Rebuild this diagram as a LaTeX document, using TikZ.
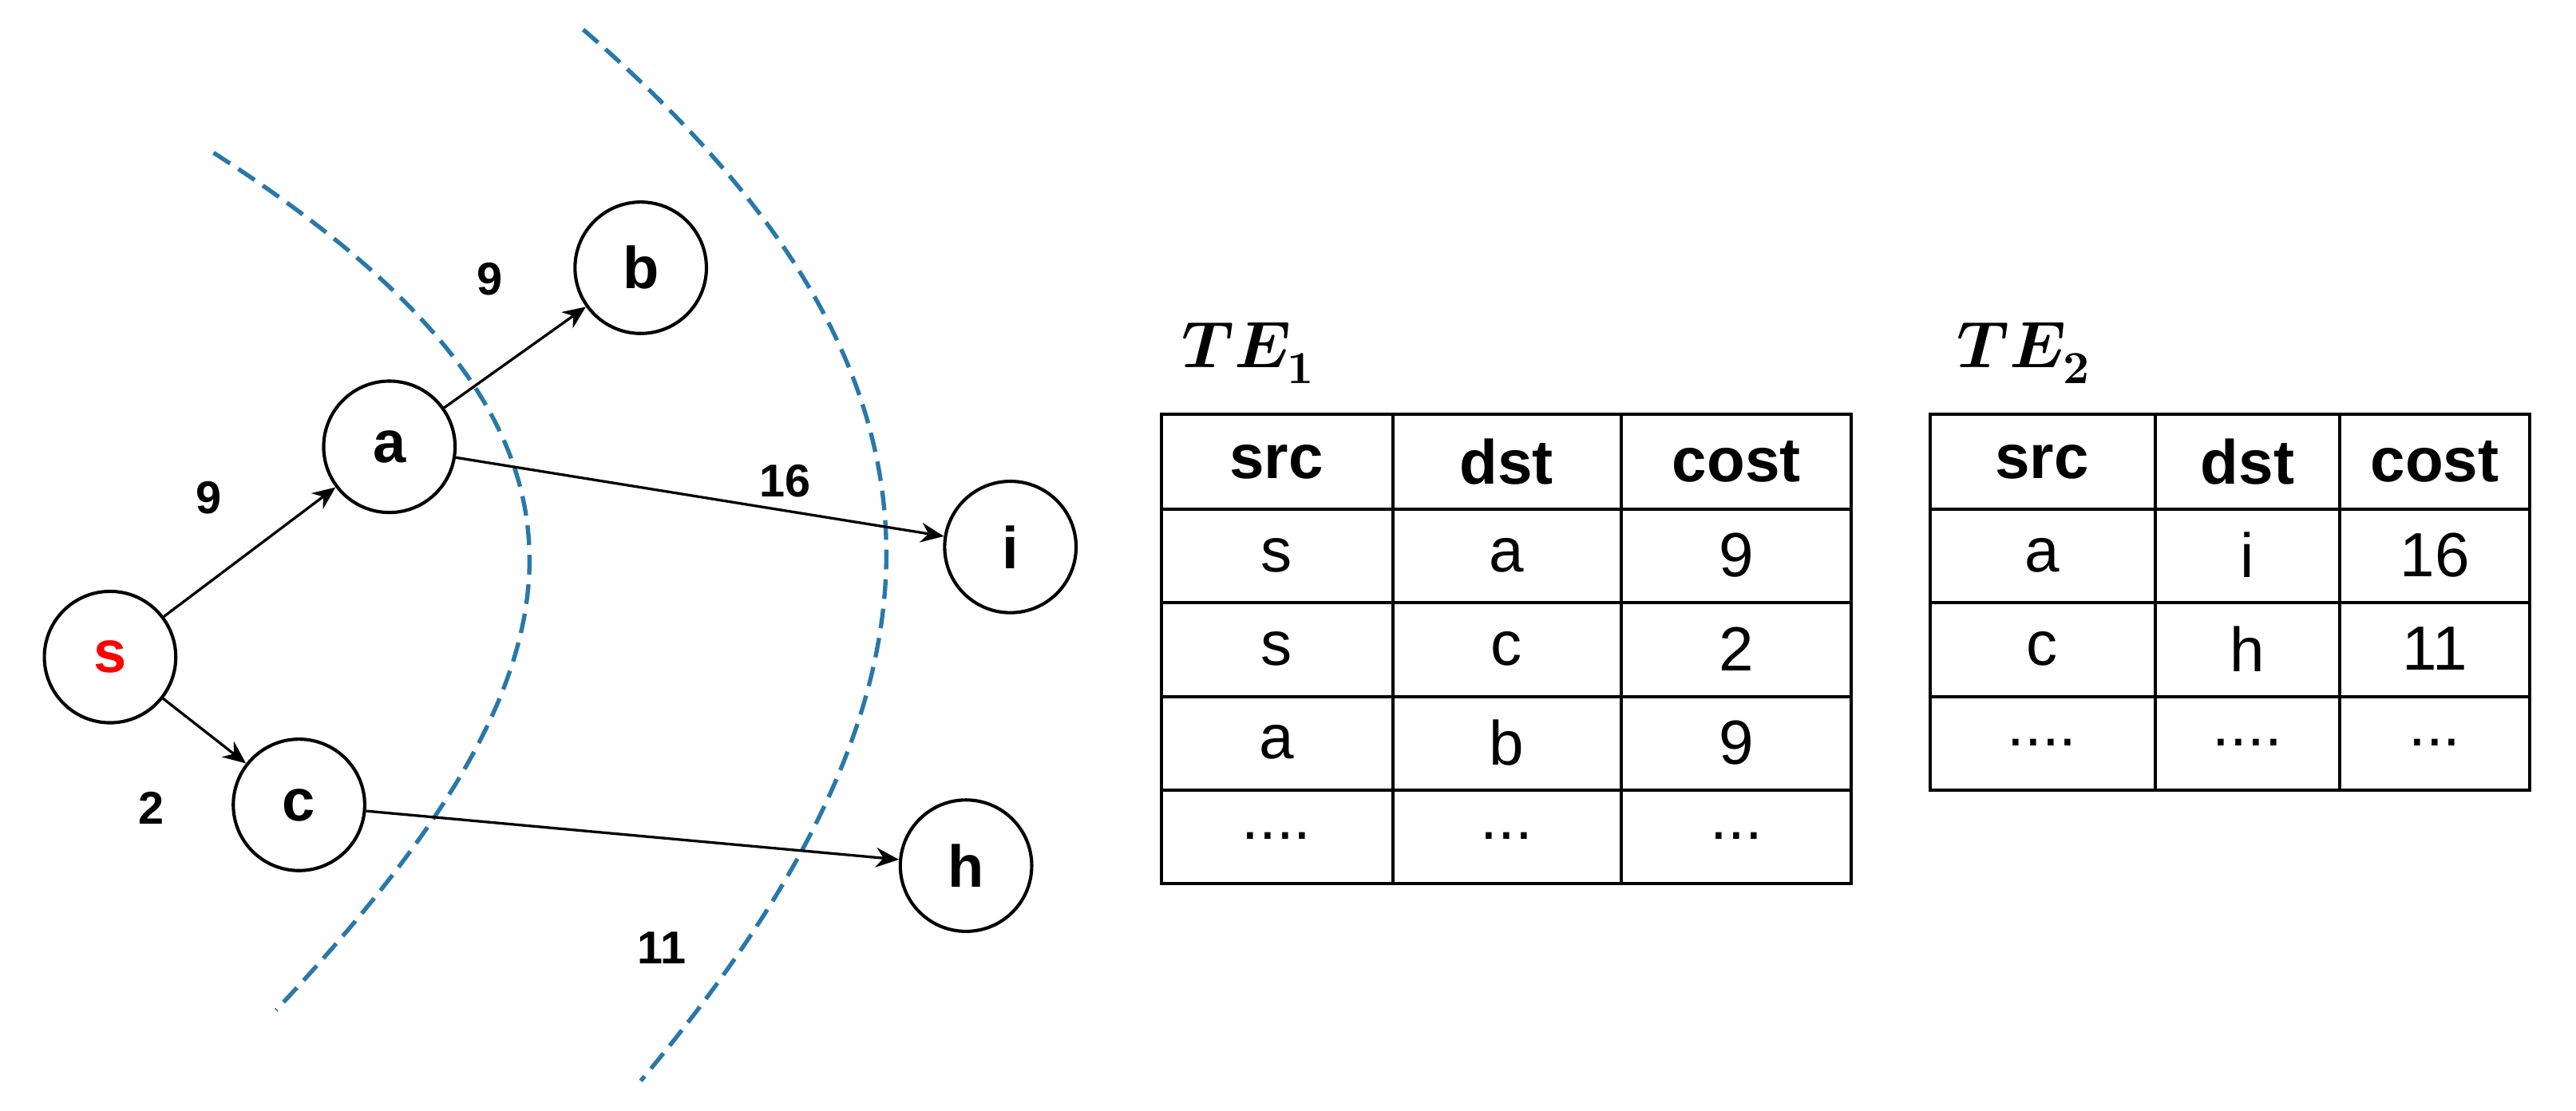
\documentclass[tikz,border=0pt]{standalone}
\usepackage{fontspec}
\setmainfont{Liberation Sans}
\usepackage{unicode-math}
\usetikzlibrary{arrows.meta}
\begin{document}
\begin{tikzpicture}[x=0.5pt,y=-0.5pt,
  nd/.style={circle,draw,line width=1pt,minimum size=40pt,inner sep=0pt,font=\fontsize{18}{20}\selectfont\bfseries},
  ed/.style={-{Stealth[length=7pt,width=6pt]},line width=0.8pt},
  wl/.style={font=\fontsize{14}{16}\selectfont\bfseries},
  cut/.style={dashed,dash pattern=on 6pt off 3pt,line width=1.3pt,draw={rgb,255:red,40;green,120;blue,170}},
  cell/.style={font=\fontsize{19}{22}\selectfont},
  hd/.style={font=\fontsize{19}{22}\selectfont\bfseries}]
\useasboundingbox (0,0) rectangle (1568,676);
\draw[cut] (130,93) .. controls (390,260) and (370,400) .. (168,615);
\draw[cut] (355,18) .. controls (600,230) and (590,420) .. (390,658);
\node[nd,text=red] (s) at (67,400) {s};
\node[nd] (a) at (237,272) {a};
\node[nd] (b) at (390,163) {b};
\node[nd] (c) at (182,490) {c};
\node[nd] (i) at (615,333) {i};
\node[nd] (h) at (588,527) {h};
\draw[ed] (s) -- (a);
\draw[ed] (s) -- (c);
\draw[ed] (a) -- (b);
\draw[ed] (a) -- (i);
\draw[ed] (c) -- (h);
\node[wl] (l1) at (298,170) {9};
\node[wl] (l2) at (127,303) {9};
\node[wl] (l3) at (478,293) {16};
\node[wl] (l4) at (92,492) {2};
\node[wl] (l5) at (403,577) {11};
% TE1
\node[font=\fontsize{20}{22}\selectfont] (t1) at (760,215) {$\symbfit{TE}_{\symbf{1}}$};
\draw[line width=1pt] (707,252) rectangle (1127,538);
\foreach \y in {310,367,424,481} \draw[line width=1pt] (707,\y) -- (1127,\y);
\foreach \x in {848,987} \draw[line width=1pt] (\x,252) -- (\x,538);
\node[hd] (h11) at (777,281) {src};
\node[hd] (h12) at (917,281) {dst};
\node[hd] (h13) at (1057,281) {cost};
\node[cell] (c11) at (777,338) {s};
\node[cell] (c12) at (917,338) {a};
\node[cell] (c13) at (1057,338) {9};
\node[cell] (c21) at (777,395) {s};
\node[cell] (c22) at (917,395) {c};
\node[cell] (c23) at (1057,395) {2};
\node[cell] (c31) at (777,452) {a};
\node[cell] (c32) at (917,452) {b};
\node[cell] (c33) at (1057,452) {9};
\node[cell] (c41) at (777,509) {....};
\node[cell] (c42) at (917,509) {...};
\node[cell] (c43) at (1057,509) {...};
% TE2
\node[font=\fontsize{20}{22}\selectfont] (t2) at (1232,215) {$\symbfit{TE}_{\symbf{2}}$};
\draw[line width=1pt] (1175,252) rectangle (1540,481);
\foreach \y in {310,367,424} \draw[line width=1pt] (1175,\y) -- (1540,\y);
\foreach \x in {1312,1424} \draw[line width=1pt] (\x,252) -- (\x,481);
\node[hd] (k11) at (1243,281) {src};
\node[hd] (k12) at (1368,281) {dst};
\node[hd] (k13) at (1482,281) {cost};
\node[cell] (d11) at (1243,338) {a};
\node[cell] (d12) at (1368,338) {i};
\node[cell] (d13) at (1482,338) {16};
\node[cell] (d21) at (1243,395) {c};
\node[cell] (d22) at (1368,395) {h};
\node[cell] (d23) at (1482,395) {11};
\node[cell] (d31) at (1243,452) {....};
\node[cell] (d32) at (1368,452) {....};
\node[cell] (d33) at (1482,452) {...};
\end{tikzpicture}
\end{document}
